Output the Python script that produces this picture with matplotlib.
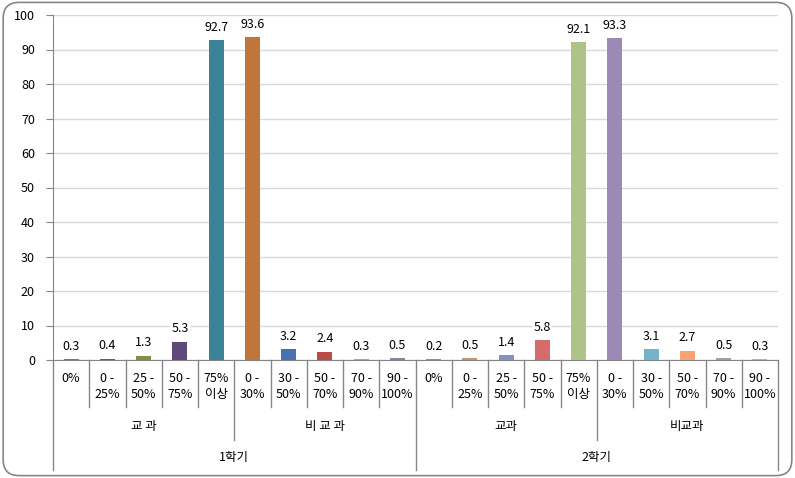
import matplotlib
matplotlib.use('Agg')
import matplotlib.pyplot as plt
import matplotlib.transforms as mtransforms
from matplotlib.patches import FancyBboxPatch
import numpy as np

plt.rcParams['font.family'] = ['Noto Sans CJK KR', 'DejaVu Sans']

# data
semesters = ['1학기', '2학기']
groups = [['교 과', '비 교 과'], ['교과', '비교과']]
cat_subject = ['0%', '0 -\n25%', '25 -\n50%', '50 -\n75%', '75%\n이상']
cat_nonsubject = ['0 -\n30%', '30 -\n50%', '50 -\n70%', '70 -\n90%', '90 -\n100%']
values_sem1 = [0.3, 0.4, 1.3, 5.3, 92.7, 93.6, 3.2, 2.4, 0.3, 0.5]
values_sem2 = [0.2, 0.5, 1.4, 5.8, 92.1, 93.3, 3.1, 2.7, 0.5, 0.3]
bar_colors = ['#4F81BD', '#8E4B4A', '#7F9140', '#5F497A', '#3A8296',
              '#C0763A', '#4672B4', '#B94A48', '#9BBB59', '#8C7FA0',
              '#4BACC6', '#C9956B', '#8491C8', '#D56B6B', '#AEC487',
              '#9D89B6', '#75B3CB', '#F7A46E', '#A0A0A0', '#B0B0B0']

labels = (cat_subject + cat_nonsubject) * 2
values = values_sem1 + values_sem2
x = np.arange(len(values))
fs = 9

fig = plt.figure(figsize=(7.95, 4.78), dpi=100)
ax = fig.add_axes([53 / 795, 1 - 360 / 478, (778 - 53) / 795, 345 / 478])

bars = ax.bar(x, values, width=0.41, color=bar_colors, zorder=3)
for b, v in zip(bars, values):
    ax.annotate(f'{v:.1f}', (b.get_x() + b.get_width() / 2, v),
                xytext=(0, 4.5), textcoords='offset points',
                ha='center', va='bottom', fontsize=fs,
                bbox=dict(boxstyle='square,pad=0.1', fc='white', ec='none'),
                zorder=4)

ax.set_xlim(-0.5, len(values) - 0.5)
ax.set_ylim(0, 100)
ax.set_yticks(np.arange(0, 101, 10))
ax.yaxis.grid(True, color='#D9D9D9', lw=1)
ax.set_axisbelow(True)
ax.set_xticks([])
ax.tick_params(axis='y', direction='out', length=5, color='#868686',
               labelsize=fs, pad=8)
for s in ['top', 'right']:
    ax.spines[s].set_visible(False)
for s in ['left', 'bottom']:
    ax.spines[s].set_color('#868686')

# multi-level category axis
trans = mtransforms.blended_transform_factory(ax.transData, ax.transAxes)
line_kw = dict(color='#868686', lw=1, transform=trans, clip_on=False)

for i, lab in enumerate(labels):
    ax.text(i, -0.035, lab, transform=trans, ha='center', va='top',
            fontsize=fs, linespacing=1.3)

for b in range(len(values) + 1):
    xb = b - 0.5
    if b % 10 == 0:
        bottom = -0.319
    elif b % 5 == 0:
        bottom = -0.232
    else:
        bottom = -0.136
    ax.plot([xb, xb], [0, bottom], **line_kw)

for si, sem in enumerate(semesters):
    for gi, g in enumerate(groups[si]):
        cx = si * 10 + gi * 5 + 2
        ax.text(cx, -0.194, g, transform=trans, ha='center', va='center',
                fontsize=fs)
    ax.text(si * 10 + 4.5, -0.284, sem, transform=trans, ha='center',
            va='center', fontsize=fs)

# rounded chart border
border = FancyBboxPatch((0.004, 0.005), 0.992, 0.99,
                        boxstyle='round,pad=0,rounding_size=0.02',
                        mutation_aspect=795 / 478,
                        transform=fig.transFigure, fc='none',
                        ec='#868686', lw=1.2)
fig.patches.append(border)

fig.savefig('out.png', dpi=100)
